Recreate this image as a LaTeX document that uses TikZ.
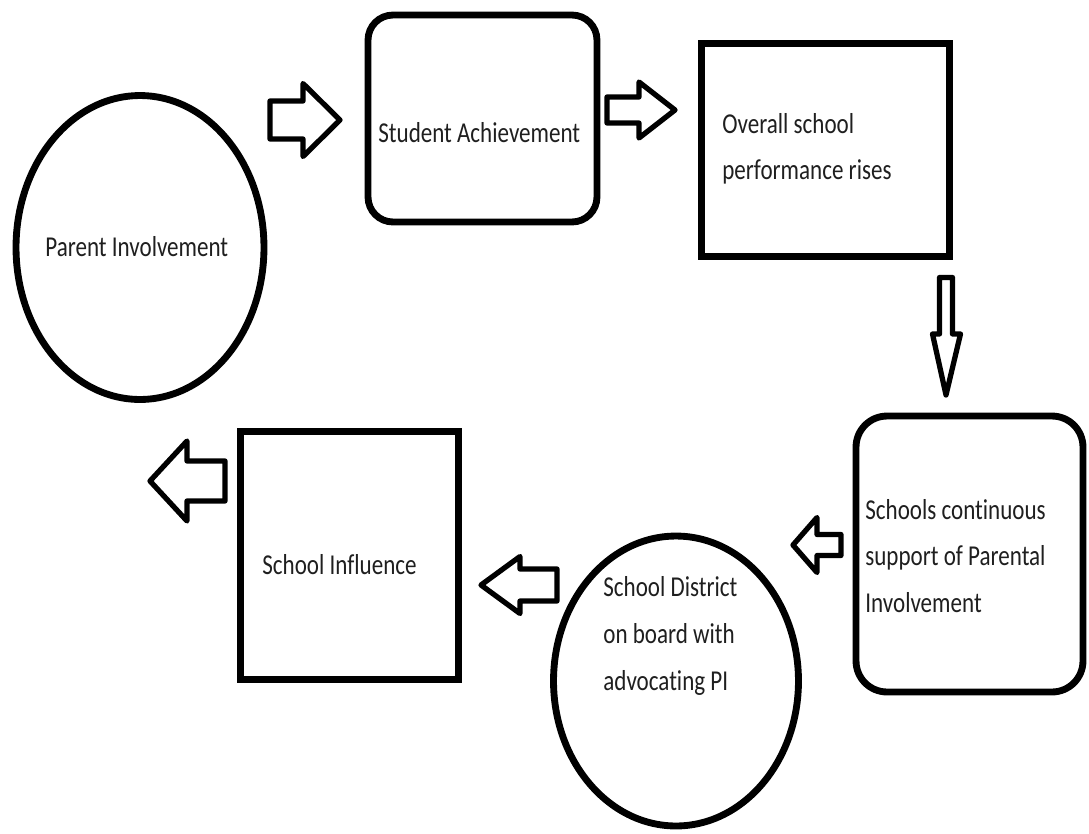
\documentclass[tikz,border=0pt]{standalone}
\usepackage{fontspec}
\setmainfont{Carlito}[Ligatures=NoCommon, FakeStretch=0.8]
\usetikzlibrary{shapes.geometric}
\newcommand{\harrow}[6]{%
  \draw[barrow] ({#1-#3},{#2-#5/2}) -- ({#1-#4},{#2-#5/2}) -- ({#1-#4},{#2-#6/2})
    -- (#1,#2) -- ({#1-#4},{#2+#6/2}) -- ({#1-#4},{#2+#5/2}) -- ({#1-#3},{#2+#5/2}) -- cycle;}
\begin{document}
\begin{tikzpicture}[x=0.02cm,y=-0.02cm,
  shapeline/.style={draw=black, line width=3.9pt, fill=white},
  boxnode/.style={shapeline, rectangle, inner sep=0pt, outer sep=0pt},
  roundnode/.style={boxnode, rounded corners=0.5cm},
  ovalnode/.style={shapeline, ellipse, inner sep=0pt, outer sep=0pt},
  txt/.style={inner sep=0pt, anchor=west, align=left, text=black!88,
    font=\fontsize{16.4}{26.5}\selectfont},
  barrow/.style={draw=black, line width=3pt, line join=round, fill=white}]
\useasboundingbox (0,0) rectangle (1089,833);

% shapes
\node[ovalnode, minimum width=4.96cm, minimum height=6.08cm] (pi) at (140,247.5) {};
\node[roundnode, minimum width=4.58cm, minimum height=4.14cm] (sa) at (482.5,118.5) {};
\node[boxnode, line width=4.4pt, minimum width=4.96cm, minimum height=4.26cm] (osp) at (825.5,150) {};
\node[roundnode, rounded corners=0.62cm, minimum width=4.54cm, minimum height=5.52cm] (scs) at (969.5,554) {};
\node[ovalnode, minimum width=4.9cm, minimum height=5.8cm] (sd) at (676,681) {};
\node[boxnode, minimum width=4.36cm, minimum height=4.96cm] (si) at (349.5,555.5) {};

% texts
\node[txt] (pit) at (45,247) {Parent Involvement};
\node[txt] (sat) at (378,133) {Student Achievement};
\node[txt] (ospt) at (722,149) {Overall school\\performance rises};
\node[txt] (scst) at (865,556) {Schools continuous\\support of Parental\\Involvement};
\node[txt] (sdt) at (603,636) {School District\\on board with\\advocating PI};
\node[txt] (sit) at (262,565) {School Influence};

% block arrows
\harrow{340}{120}{70}{37}{38}{73}
\harrow{675}{110}{68}{36}{26}{56}
\draw[barrow] (939.5,277.5) -- (952.5,277.5) -- (952.5,334) -- (960.5,334)
  -- (946,395) -- (932.5,334) -- (939.5,334) -- cycle;
\harrow{793}{545}{-48}{-24}{21}{55}
\harrow{481}{585}{-76}{-39}{32}{57}
\harrow{150}{481}{-75}{-37}{40}{80}
\end{tikzpicture}
\end{document}
